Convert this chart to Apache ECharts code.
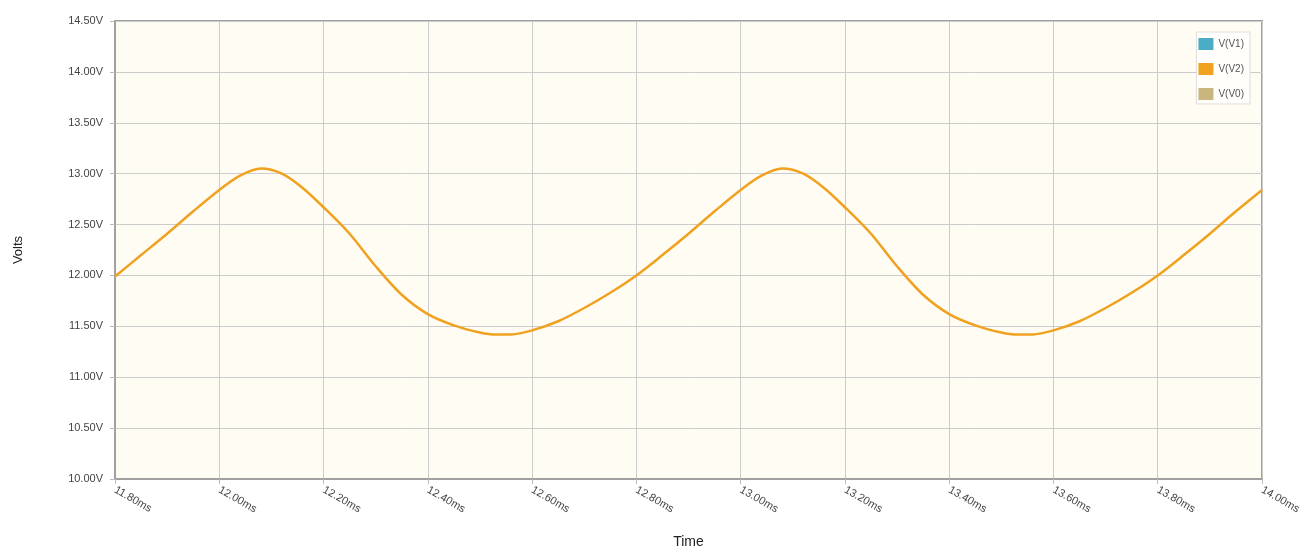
<!DOCTYPE html>
<html>
<head>
<meta charset="utf-8">
<script src="https://cdn.jsdelivr.net/npm/echarts@6/dist/echarts.min.js"></script>
<style>
html,body{margin:0;padding:0;background:#fff;overflow:hidden;}
#chart{width:1314px;height:554px;}
</style>
</head>
<body>
<div id="chart"></div>
<script>
// Time (ms) and voltage
const timeMs = [11.80,11.85,11.90,11.95,12.00,12.04,12.08,12.12,12.16,12.20,12.25,12.30,12.35,12.40,12.45,12.50,12.53,12.56,12.60,12.65,12.70,12.75,
                12.80,12.85,12.90,12.95,13.00,13.04,13.08,13.12,13.16,13.20,13.25,13.30,13.35,13.40,13.45,13.50,13.53,13.56,13.60,13.65,13.70,13.75,
                13.80,13.85,13.90,13.95,14.00];
const vV2 = [11.99,12.20,12.41,12.63,12.84,12.98,13.05,13.00,12.86,12.67,12.41,12.09,11.81,11.62,11.51,11.44,11.42,11.42,11.46,11.55,11.68,11.83,
             12.00,12.20,12.41,12.63,12.84,12.98,13.05,13.00,12.86,12.67,12.41,12.09,11.81,11.62,11.51,11.44,11.42,11.42,11.46,11.55,11.68,11.83,
             12.00,12.20,12.41,12.63,12.84];
const vV1 = [];
const vV0 = [];
const seriesNames = ['V(V1)','V(V2)','V(V0)'];
const seriesColors = ['#4bacc6','#f0a11f','#c8b67e'];

const chart = echarts.init(document.getElementById('chart'), null, {renderer:'canvas'});
const font = 'Arial, "Liberation Sans", sans-serif';
chart.setOption({
  animation:false,
  backgroundColor:'#ffffff',
  color: seriesColors,
  grid:{left:115,right:52,top:21,bottom:71,show:true,backgroundColor:'#fffdf3',borderColor:'#a0a0a0',borderWidth:2,containLabel:false},
  legend:{
    data: seriesNames,
    orient:'vertical', right:64, top:32,
    icon:'rect', itemWidth:15, itemHeight:12, itemGap:13,
    backgroundColor:'#fffefa', borderColor:'#dddddd', borderWidth:1, padding:[6,6,4,2],
    textStyle:{fontFamily:font,fontSize:10,color:'#555',padding:[0,0,6,0]}
  },
  xAxis:{
    type:'value', min:11.8, max:14.0, interval:0.2,
    name:'Time', nameLocation:'middle', nameGap:56,
    nameTextStyle:{fontFamily:font,fontSize:14,color:'#222'},
    axisLine:{show:true,lineStyle:{color:'#a0a0a0',width:2}},
    axisTick:{show:true,length:5,lineStyle:{color:'#bbb'}},
    axisLabel:{rotate:-30,fontFamily:font,fontSize:11,color:'#444',margin:10,
      formatter:v=>v.toFixed(2)+'ms', showMinLabel:true, showMaxLabel:true},
    splitLine:{show:true,lineStyle:{color:'#cccccc',width:1}}
  },
  yAxis:{
    type:'value', min:10, max:14.5, interval:0.5,
    name:'Volts', nameLocation:'middle', nameGap:90, nameRotate:90,
    nameTextStyle:{fontFamily:font,fontSize:13,color:'#222'},
    axisLine:{show:true,lineStyle:{color:'#a0a0a0',width:2}},
    axisTick:{show:true,length:5,lineStyle:{color:'#bbb'}},
    axisLabel:{fontFamily:font,fontSize:11,color:'#444',margin:12,formatter:v=>v.toFixed(2)+'V'},
    splitLine:{show:true,lineStyle:{color:'#cccccc',width:1}}
  },
  series:[
    {name:seriesNames[0],type:'line',data:vV1.map((v,i)=>[timeMs[i],v]),showSymbol:false},
    {name:seriesNames[1],type:'line',smooth:0.3,showSymbol:false,
     lineStyle:{width:2.5,color:seriesColors[1]},
     data: timeMs.map((t,i)=>[t,vV2[i]])},
    {name:seriesNames[2],type:'line',data:vV0.map((v,i)=>[timeMs[i],v]),showSymbol:false}
  ]
});
</script>
</body>
</html>
